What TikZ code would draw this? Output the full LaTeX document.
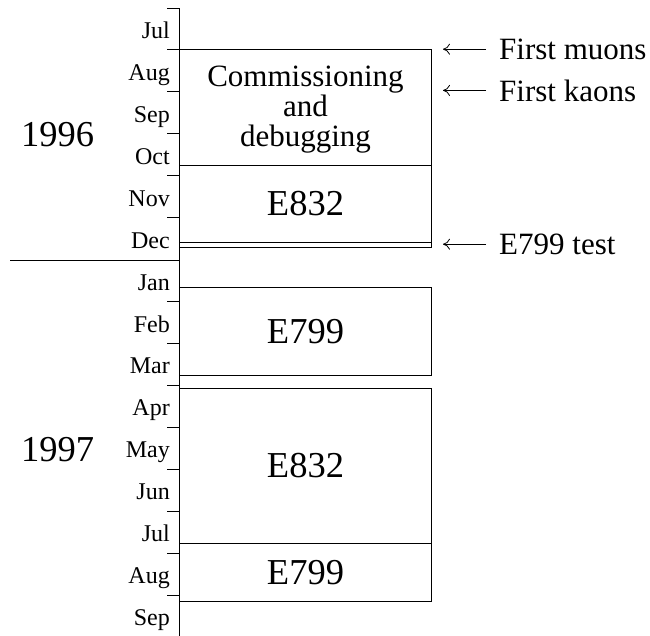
\documentclass[tikz,border=0pt]{standalone}
\usepackage{fontspec}
\setmainfont{Liberation Serif}
\usetikzlibrary{arrows.meta}
\tikzset{
  box/.style={draw, line width=1pt, inner sep=0pt, anchor=north west, minimum width=252pt},
  bigtxt/.style={inner sep=0pt, font=\fontsize{36.5}{40}\selectfont},
  commtxt/.style={inner sep=0pt, align=center, font=\fontsize{31}{30}\selectfont},
  monthtxt/.style={inner sep=0pt, anchor=base east, font=\fontsize{24}{26}\selectfont},
  notetxt/.style={inner sep=0pt, anchor=base west, font=\fontsize{31}{33}\selectfont},
  axisline/.style={line width=0.9pt},
  notearrow/.style={line width=0.8pt, -{To[length=7pt,width=11pt]}}
}
\begin{document}
\begin{tikzpicture}[x=1pt,y=-1pt]
\useasboundingbox (0,0) rectangle (650,635);
% axis
\draw[axisline] (179,8) -- (179,637);
\foreach \i in {0,1,2,3,4,5,7,8,9,10,11,12,13,14}{
  \draw[axisline] (167,{8+41.93*\i}) -- (179,{8+41.93*\i});
}
\draw[axisline] (10,260) -- (179,260);
% month labels
\foreach \m [count=\i from 0] in {Jul,Aug,Sep,Oct,Nov,Dec,Jan,Feb,Mar,Apr,May,Jun,Jul,Aug,Sep}{
  \node[monthtxt] (m\i) at (170,{38.5+41.93*\i}) {\m};
}
% years
\node[bigtxt] (y1996) at (57.5,134.4) {1996};
\node[bigtxt] (y1997) at (57.5,449.4) {1997};
% boxes
\node[box, minimum height=116pt] (comm) at (179,49) {};
\node[commtxt] (commlbl) at ([yshift=-2.5pt]comm.center) {Commissioning\\and\\debugging};
\node[box, minimum height=77pt, bigtxt, draw, line width=1pt, anchor=north west] (e832a) at (179,165) {E832};
\node[box, minimum height=4.5pt] (test) at (179,242) {};
\node[box, minimum height=88pt, bigtxt, draw, line width=1pt, anchor=north west] (e799a) at (179,287) {E799};
\node[box, minimum height=155pt, bigtxt, draw, line width=1pt, anchor=north west] (e832b) at (179,388) {E832};
\node[box, minimum height=58pt, bigtxt, draw, line width=1pt, anchor=north west] (e799b) at (179,543) {E799};
% notes
\node[notetxt] (mu) at (499,59.3) {First muons};
\node[notetxt] (ka) at (499,101) {First kaons};
\node[notetxt] (te) at (499,254.3) {E799 test};
\draw[notearrow] ([xshift=-13pt]mu.west) -- ([xshift=-56pt]mu.west);
\draw[notearrow] ([xshift=-13pt]ka.west) -- ([xshift=-56pt]ka.west);
\draw[notearrow] ([xshift=-13pt]te.west) -- ([xshift=-56pt]te.west);
\end{tikzpicture}
\end{document}
